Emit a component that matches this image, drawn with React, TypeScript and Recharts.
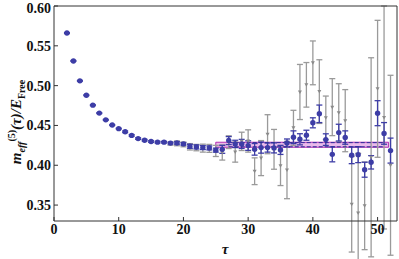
import { ComposedChart, Scatter, ErrorBar, XAxis, YAxis, ReferenceArea, ReferenceLine } from "recharts";

// effective mass, smeared correlator (blue) and local (gray)
const tauBlue = [2, 3, 4, 5, 6, 7, 8, 9, 10, 11, 12, 13, 14, 15, 16, 17, 18, 19, 20, 21, 22, 23, 24, 25, 26, 27, 28, 29, 30, 31, 32, 33, 34, 35, 36, 37, 38, 39, 40, 41, 42, 43, 44, 45, 46, 47, 48, 49, 50, 51, 52];
const meffBlue = [0.566, 0.531, 0.506, 0.488, 0.4755, 0.4655, 0.457, 0.4505, 0.446, 0.442, 0.4375, 0.4335, 0.4315, 0.4298, 0.429, 0.429, 0.4278, 0.428, 0.4268, 0.4238, 0.423, 0.4222, 0.4218, 0.419, 0.42, 0.431, 0.4268, 0.4268, 0.4247, 0.42, 0.4222, 0.4222, 0.4218, 0.4193, 0.428, 0.4352, 0.4326, 0.4377, 0.4533, 0.4646, 0.4322, 0.4137, 0.441, 0.4348, 0.4125, 0.4133, 0.3944, 0.4037, 0.4654, 0.44, 0.4184];
const errBlue = [0.0005, 0.0005, 0.0005, 0.0005, 0.0005, 0.0005, 0.0005, 0.0005, 0.0005, 0.001, 0.001, 0.001, 0.001, 0.001, 0.001, 0.001, 0.001, 0.0015, 0.0015, 0.0025, 0.0025, 0.0025, 0.0025, 0.0025, 0.005, 0.005, 0.0046, 0.0057, 0.006, 0.0073, 0.007, 0.0057, 0.0063, 0.0057, 0.005, 0.008, 0.007, 0.0063, 0.0063, 0.011, 0.0073, 0.0094, 0.0105, 0.0084, 0.0105, 0.01, 0.0094, 0.0084, 0.0157, 0.0136, 0.0157];

const tauGray = [18, 19, 20, 21, 22, 23, 24, 25, 26, 27, 28, 29, 30, 31, 32, 33, 34, 35, 36, 37, 38, 39, 40, 41, 42, 43, 44, 45, 46, 47, 48, 49, 50, 51, 52];
const meffGray = [0.4272, 0.4275, 0.4262, 0.4232, 0.4222, 0.4215, 0.4212, 0.418, 0.416, 0.429, 0.4165, 0.43, 0.4305, 0.3925, 0.409, 0.439, 0.42, 0.3995, 0.394, 0.447, 0.492, 0.501, 0.5286, 0.4925, 0.4596, 0.473, 0.4659, 0.456, 0.351, 0.34, 0.349, 0.41, 0.496, 0.46, 0.4];
const errGray = [0.002, 0.003, 0.003, 0.004, 0.004, 0.005, 0.005, 0.007, 0.0095, 0.008, 0.0126, 0.0115, 0.014, 0.0168, 0.022, 0.0245, 0.025, 0.025, 0.036, 0.022, 0.0346, 0.028, 0.0275, 0.04, 0.0273, 0.0358, 0.0365, 0.039, 0.06, 0.075, 0.055, 0.125, 0.086, 0.14, 0.113];

// plateau fit
const fitRange = [25, 51.7];
const fitBand = [0.4226, 0.4289];
const dashRange = [27, 51];
const dashLevels = [0.4284, 0.4232];

const xMajor = [0, 10, 20, 30, 40, 50];
const xMinor = [2, 4, 6, 8, 12, 14, 16, 18, 22, 24, 26, 28, 32, 34, 36, 38, 42, 44, 46, 48, 52];
const yMajor = [0.35, 0.4, 0.45, 0.5, 0.55, 0.6];
const yMinor = [0.34, 0.36, 0.37, 0.38, 0.39, 0.41, 0.42, 0.43, 0.44, 0.46, 0.47, 0.48, 0.49, 0.51, 0.52, 0.53, 0.54, 0.56, 0.57, 0.58, 0.59];

const blueData = tauBlue.map((t, i) => ({ x: t, y: meffBlue[i], err: errBlue[i] }));
const grayData = tauGray.map((t, i) => ({ x: t, y: meffGray[i], err: errGray[i] }));

const BLUE = "#3d3da6";
const GRAY = "#9a9a9a";
const FRAME = "#333";
const font = "'Liberation Serif', 'DejaVu Serif', serif";

const tickStyle = { fontFamily: font, fontWeight: "bold" as const, fontSize: 14, fill: "#111" };

const Dot = (p: any) => <circle cx={p.cx} cy={p.cy} r={2.7} fill={BLUE} />;
const Tri = (p: any) => (
  <polygon
    points={`${p.cx - 2},${p.cy - 1.5} ${p.cx + 2},${p.cy - 1.5} ${p.cx},${p.cy + 2}`}
    fill="#8a8a8a"
  />
);

const YTitle = () => (
  <text
    transform="translate(21,122) rotate(-90)"
    textAnchor="middle"
    fontFamily={font}
    fontWeight="bold"
    fontStyle="italic"
    fontSize={15}
    fill="#111"
  >
    m<tspan fontSize={10} dy={4}>eff</tspan>
    <tspan fontSize={10} dy={-10} fontStyle="normal">(5)</tspan>
    <tspan fontSize={15} dy={6}>(τ)/E</tspan>
    <tspan fontSize={10} dy={4} fontStyle="normal">Free</tspan>
  </text>
);

const XTitle = () => (
  <text x={225} y={254} textAnchor="middle" fontFamily={font} fontWeight="bold" fontStyle="italic" fontSize={15} fill="#111">
    τ
  </text>
);

export default function App() {
  return (
    <div style={{ position: "absolute", left: 0, top: 0 }}>
      <ComposedChart width={399} height={259} margin={{ top: 0, right: 0, bottom: 0, left: 0 }}>
        <XAxis xAxisId="bm" type="number" dataKey="x" domain={[0, 53]} ticks={xMinor} tick={false} tickSize={-2} axisLine={false} height={0} tickLine={{ stroke: FRAME }} />
        <XAxis xAxisId="b" type="number" dataKey="x" domain={[0, 53]} ticks={xMajor} tickSize={-4} tickMargin={7} height={38} tick={tickStyle} axisLine={{ stroke: FRAME }} tickLine={{ stroke: FRAME }} label={{ content: XTitle }} />
        <XAxis xAxisId="tm" orientation="top" type="number" dataKey="x" domain={[0, 53]} ticks={xMinor} tick={false} tickSize={-2} axisLine={false} height={0} tickLine={{ stroke: FRAME }} />
        <XAxis xAxisId="t" orientation="top" type="number" dataKey="x" domain={[0, 53]} ticks={xMajor} tick={false} tickSize={-4} height={6} axisLine={{ stroke: FRAME }} tickLine={{ stroke: FRAME }} />
        <YAxis yAxisId="lm" type="number" domain={[0.33, 0.6]} ticks={yMinor} tick={false} tickSize={-2} axisLine={false} width={0} tickLine={{ stroke: FRAME }} allowDataOverflow />
        <YAxis yAxisId="l" type="number" domain={[0.33, 0.6]} ticks={yMajor} tickSize={-4} tickMargin={7} width={54} tick={tickStyle} tickFormatter={(v: number) => v.toFixed(2)} axisLine={{ stroke: FRAME }} tickLine={{ stroke: FRAME }} allowDataOverflow label={{ content: YTitle }} />
        <YAxis yAxisId="rm" orientation="right" type="number" domain={[0.33, 0.6]} ticks={yMinor} tick={false} tickSize={-2} axisLine={false} width={0} tickLine={{ stroke: FRAME }} allowDataOverflow />
        <YAxis yAxisId="r" orientation="right" type="number" domain={[0.33, 0.6]} ticks={yMajor} tick={false} tickSize={-4} width={2} axisLine={{ stroke: FRAME }} tickLine={{ stroke: FRAME }} allowDataOverflow />

        <Scatter data={grayData} dataKey="y" xAxisId="b" yAxisId="l" shape={Tri} isAnimationActive={false}>
          <ErrorBar dataKey="err" direction="y" width={3} stroke={GRAY} strokeWidth={1.3} />
        </Scatter>

        <ReferenceArea
          xAxisId="b"
          yAxisId="l"
          x1={fitRange[0]}
          x2={fitRange[1]}
          y1={fitBand[0]}
          y2={fitBand[1]}
          fill="#e3a3e3"
          fillOpacity={0.75}
          stroke="#b32fb3"
          strokeWidth={1}
        />

        <Scatter data={blueData} dataKey="y" xAxisId="b" yAxisId="l" shape={Dot} isAnimationActive={false}>
          <ErrorBar dataKey="err" direction="y" width={3} stroke={BLUE} strokeWidth={1.3} />
        </Scatter>

        {dashLevels.map((lv) => (
          <ReferenceLine
            key={lv}
            xAxisId="b"
            yAxisId="l"
            segment={[{ x: dashRange[0], y: lv }, { x: dashRange[1], y: lv }]}
            stroke="#2a2a9a"
            strokeWidth={1}
            strokeDasharray="4 2"
          />
        ))}
      </ComposedChart>
    </div>
  );
}
